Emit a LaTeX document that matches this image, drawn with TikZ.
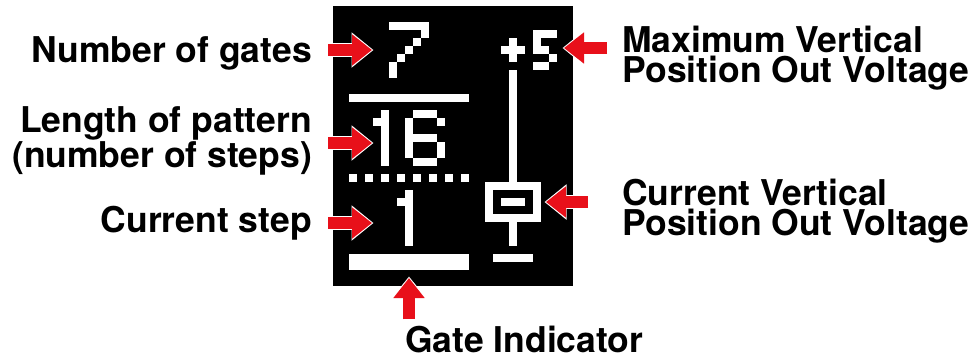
\documentclass[tikz,border=0pt]{standalone}
\usepackage{fontspec}
\setmainfont{TeX Gyre Heros}
\usetikzlibrary{arrows.meta}
\definecolor{pointerred}{RGB}{232,16,26}

\begin{document}
\begin{tikzpicture}[
  x=1pt, y=-1pt,
  callout/.style={font=\fontsize{35.5}{30}\selectfont\bfseries, inner sep=0pt},
  pointer/.style={draw=pointerred, line width=12pt, -{Triangle[length=20pt,width=30pt]},
    preaction={draw=white, line width=14.5pt, -{Triangle[length=22pt,width=34pt]}, shorten >=-1.5pt}},
  screen/.style={fill=black, inner sep=0pt, minimum width=240pt, minimum height=280pt, anchor=north west},
  pixel/.style={fill=white}
]
\path[use as bounding box] (0,0) rectangle (974,360);

\node[screen] (oled) at (333,6) {};

\begin{scope}[shift={(oled.north west)}, x=8pt, y=-8pt]
  % number of gates
  \foreach \c/\r in {7/2,8/2,9/2,10/2,11/2,11/3,10/4,9/5,8/6,7/7,7/8}
    \fill[pixel] (\c,\r) rectangle ++(1,1);
  \fill[pixel] (2,11) rectangle (17,12);
  % pattern length
  \fill[pixel] (6,13) rectangle (7,20);
  \fill[pixel] (5,14) rectangle (6,15);
  \foreach \c/\r in {10/13,11/13,12/13,9/14,13/14,9/15,9/16,10/16,11/16,12/16,9/17,13/17,9/18,13/18,10/19,11/19,12/19}
    \fill[pixel] (\c,\r) rectangle ++(1,1);
  \foreach \c in {2,4,...,16}
    \fill[pixel] (\c,21) rectangle ++(1,1);
  % current step and gate bar
  \fill[pixel] (9,23) rectangle (10,30);
  \fill[pixel] (8,24) rectangle (9,25);
  \fill[pixel] (2,31) rectangle (17,33);
  % voltage slider
  \fill[pixel] (22,4) rectangle (23,7);
  \fill[pixel] (21,5) rectangle (24,6);
  \foreach \c/\r in {25/3,26/3,27/3,25/4,25/5,26/5,27/6,25/7,26/7}
    \fill[pixel] (\c,\r) rectangle ++(1,1);
  \fill[pixel] (22,8) rectangle (23,22);
  \fill[pixel] (19,22) rectangle (26,27);
  \fill[black] (20,23) rectangle (25,26);
  \fill[pixel] (21,24) rectangle (24,25);
  \fill[pixel] (22,27) rectangle (23,30);
  \fill[pixel] (20,31) rectangle (25,32);
\end{scope}

\node[callout, anchor=base east] (gates) at (312,62) {Number of gates};
\node[callout, anchor=base east, align=right] (length) at (312,167) {Length of pattern\\(number of steps)};
\node[callout, anchor=base east] (step) at (312,232) {Current step};
\node[callout, anchor=base west, align=left] (maxvolt) at (622,82) {Maximum Vertical\\Position Out Voltage};
\node[callout, anchor=base west, align=left] (curvolt) at (622,235) {Current Vertical\\Position Out Voltage};
\node[callout, anchor=base west] (gateind) at (405,352) {Gate Indicator};

\coordinate (gatesTip) at (372,50);
\coordinate (lengthTip) at (372,143);
\coordinate (stepTip) at (372,223);
\coordinate (maxTip) at (564,48);
\coordinate (curTip) at (546,202);
\coordinate (gateTip) at (409,278);

\draw[pointer, shorten <=16pt] (gates.east |- gatesTip) -- (gatesTip);
\draw[pointer, shorten <=16pt] (length.east |- lengthTip) -- (lengthTip);
\draw[pointer, shorten <=16pt] (step.east |- stepTip) -- (stepTip);
\draw[pointer, shorten <=15pt] (maxvolt.west |- maxTip) -- (maxTip);
\draw[pointer, shorten <=34pt] (curvolt.west |- curTip) -- (curTip);
\draw[pointer, shorten <=6pt] (gateind.north -| gateTip) -- (gateTip);
\end{tikzpicture}
\end{document}
